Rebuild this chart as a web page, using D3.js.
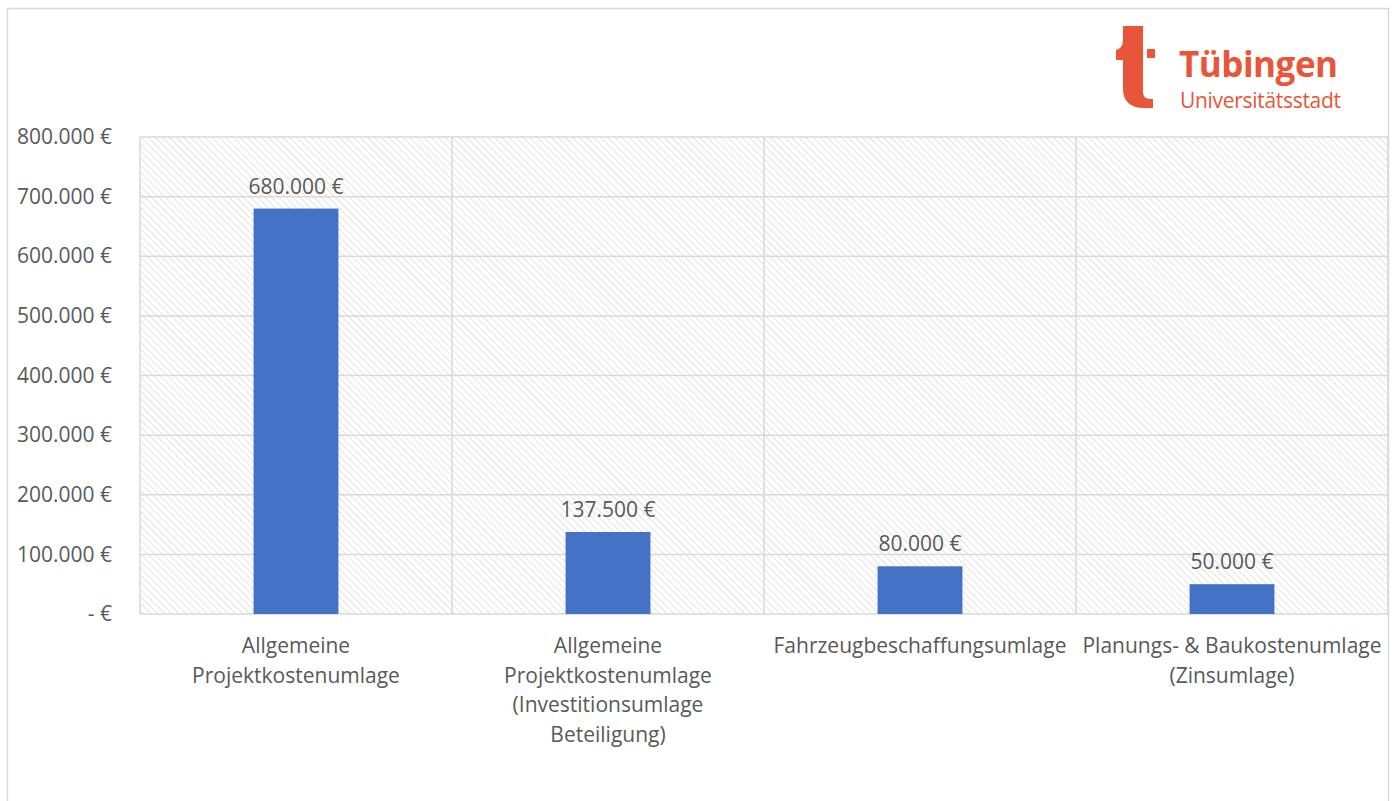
<!DOCTYPE html>
<html>
<head>
<meta charset="utf-8">
<script src="https://cdn.jsdelivr.net/npm/d3@7"></script>
<style>
  body { margin: 0; background: #fff; }
  svg text { font-family: "Open Sans", sans-serif; fill: #595959; }
</style>
</head>
<body>
<div id="chart"></div>
<script>
// data
var categories = [
  ["Allgemeine", "Projektkostenumlage"],
  ["Allgemeine", "Projektkostenumlage", "(Investitionsumlage", "Beteiligung)"],
  ["Fahrzeugbeschaffungsumlage"],
  ["Planungs- & Baukostenumlage", "(Zinsumlage)"]
];
var values = [680000, 137500, 80000, 50000];
var yTicks = [0, 100000, 200000, 300000, 400000, 500000, 600000, 700000, 800000];

var W = 1395, H = 801;
var margin = {top: 137, right: 7, bottom: 187, left: 140},
    width = W - margin.left - margin.right,
    height = H - margin.top - margin.bottom;

var fmt = function(v) {
  if (v === 0) return "- €";
  return d3.format(",.0f")(v).replace(/,/g, ".") + " €";
};

var svg = d3.select("#chart").append("svg")
  .attr("width", W)
  .attr("height", H);

// hatch pattern for plot background
var defs = svg.append("defs");
defs.append("pattern")
  .attr("id", "hatch")
  .attr("patternUnits", "userSpaceOnUse")
  .attr("width", 5).attr("height", 5)
  .attr("patternTransform", "rotate(-45)")
  .append("line")
  .attr("x1", 0).attr("y1", 0).attr("x2", 0).attr("y2", 5)
  .attr("stroke", "#cfcfcf").attr("stroke-width", 1.2);

// outer chart border
svg.append("path")
  .attr("d", "M7.5," + H + "V8.5H1388.5V" + H)
  .attr("fill", "none")
  .attr("stroke", "#d9d9d9")
  .attr("stroke-width", 1.5);

var g = svg.append("g")
  .attr("transform", "translate(" + margin.left + "," + margin.top + ")");

var x = d3.scaleBand()
  .domain(d3.range(categories.length))
  .range([0, width])
  .paddingInner(0)
  .paddingOuter(0);

var y = d3.scaleLinear()
  .domain([0, 800000])
  .range([height, 0]);

g.append("rect")
  .attr("width", width).attr("height", height)
  .attr("fill", "url(#hatch)");

// horizontal grid
g.selectAll(".hgrid")
  .data(yTicks)
  .enter().append("line")
  .attr("x1", 0).attr("x2", width)
  .attr("y1", function(d) { return y(d); })
  .attr("y2", function(d) { return y(d); })
  .attr("stroke", "#d9d9d9").attr("stroke-width", 1.5);

// vertical grid at category boundaries
g.selectAll(".vgrid")
  .data(d3.range(categories.length + 1))
  .enter().append("line")
  .attr("x1", function(d) { return d * x.bandwidth(); })
  .attr("x2", function(d) { return d * x.bandwidth(); })
  .attr("y1", 0).attr("y2", height)
  .attr("stroke", "#d9d9d9").attr("stroke-width", 1.5);

// y axis labels
var yAxis = d3.axisLeft(y).tickValues(yTicks).tickFormat(fmt).tickSize(0).tickPadding(28);
var ya = g.append("g").call(yAxis);
ya.select(".domain").remove();
ya.selectAll("text")
  .style("font-size", "21px")
  .style("font-family", "'Open Sans', sans-serif")
  .attr("fill", "#595959");

// bars
var barW = x.bandwidth() * 0.272;
g.selectAll(".bar")
  .data(values)
  .enter().append("rect")
  .attr("x", function(d, i) { return x(i) + (x.bandwidth() - barW) / 2; })
  .attr("width", barW)
  .attr("y", function(d) { return y(d); })
  .attr("height", function(d) { return height - y(d); })
  .attr("fill", "#4472c4");

// data labels
g.selectAll(".lbl")
  .data(values)
  .enter().append("text")
  .attr("x", function(d, i) { return x(i) + x.bandwidth() / 2; })
  .attr("y", function(d) { return y(d) - 15; })
  .attr("text-anchor", "middle")
  .style("font-size", "21px")
  .text(fmt);

// category labels
var cat = g.selectAll(".cat")
  .data(categories)
  .enter().append("text")
  .attr("text-anchor", "middle")
  .attr("transform", function(d, i) {
    return "translate(" + (x(i) + x.bandwidth() / 2) + "," + (height + 39) + ")";
  })
  .style("font-size", "21px");
cat.selectAll("tspan")
  .data(function(d) { return d; })
  .enter().append("tspan")
  .attr("x", 0)
  .attr("dy", function(d, i) { return i === 0 ? 0 : 29.5; })
  .text(function(d) { return d; });

// logo
var logo = svg.append("g").attr("transform", "translate(1116,26)");
var red = "#e8553a";
logo.append("path")
  .attr("d", "M7,0H27V66Q27,73 34,73H37V82H28Q7,82 7,62V34H0V24Q7,22 7,14Z")
  .attr("fill", red);
logo.append("rect")
  .attr("x", 31).attr("y", 23).attr("width", 8).attr("height", 9)
  .attr("fill", red);
logo.append("text")
  .attr("x", 63).attr("y", 51)
  .style("font-family", "'Open Sans', sans-serif")
  .style("font-weight", "bold")
  .style("font-size", "35px")
  .style("letter-spacing", "-0.5px")
  .style("fill", red)
  .text("Tübingen");
logo.append("text")
  .attr("x", 64).attr("y", 82)
  .style("font-family", "'Open Sans', sans-serif")
  .style("font-size", "21px")
  .style("letter-spacing", "-0.3px")
  .style("fill", red)
  .text("Universitätsstadt");
</script>
</body>
</html>
